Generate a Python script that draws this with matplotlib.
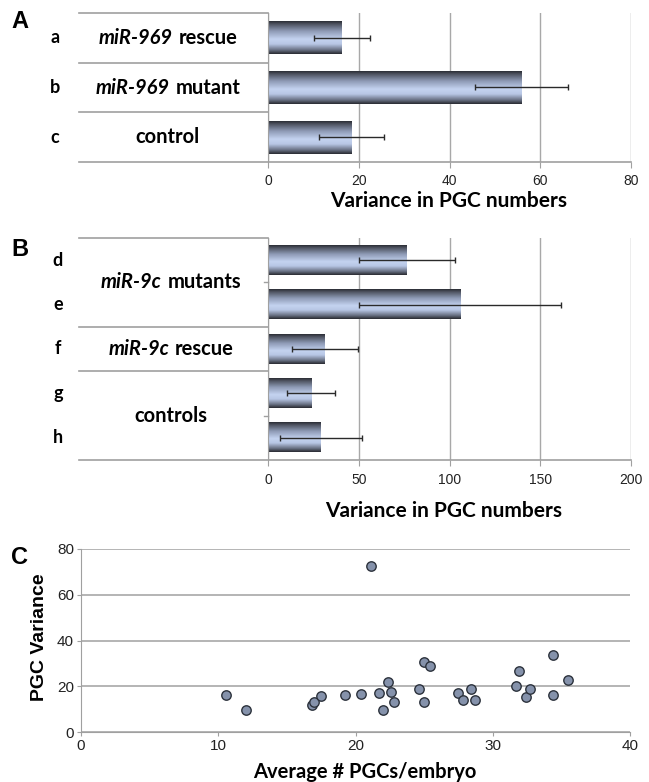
import numpy as np
import matplotlib.pyplot as plt
from matplotlib.colors import LinearSegmentedColormap
from matplotlib.transforms import blended_transform_factory
from matplotlib.offsetbox import TextArea, HPacker, AnnotationBbox

plt.rcParams['font.family'] = 'Liberation Sans'

# Panel A data (top row first)
A_LETTERS = ['a', 'b', 'c']
A_ITALIC = ['miR-969', 'miR-969', '']
A_NAMES = ['rescue', 'mutant', 'control']
A_VAR = [16.3, 55.9, 18.4]
A_ERR = [6.1, 10.2, 7.1]

# Panel B data (top row first)
B_LETTERS = ['d', 'e', 'f', 'g', 'h']
B_VAR = [76.5, 105.9, 31.4, 23.7, 29.2]
B_ERR = [26.4, 55.5, 18.1, 13.4, 22.8]
B_GROUP_ITALIC = ['miR-9c', 'miR-9c', '']
B_GROUP_NAMES = ['mutants', 'rescue', 'controls']
B_GROUP_ROWS = [(0, 1), (2, 2), (3, 4)]

# Panel C data
C_X = [10.6, 12.0, 16.8, 17.0, 17.5, 19.2, 20.4, 21.1, 21.7, 22.0, 22.4, 22.6, 22.8, 24.6,
       25.0, 25.0, 25.4, 27.5, 27.8, 28.4, 28.7, 31.7, 31.9, 32.4, 32.7, 34.4, 34.4, 35.5]
C_Y = [16.0, 9.4, 11.9, 13.0, 15.8, 16.0, 16.6, 72.4, 17.0, 9.4, 22.0, 17.3, 12.9, 18.8,
       13.3, 30.8, 28.9, 17.1, 14.1, 19.0, 13.8, 20.1, 26.8, 15.2, 18.6, 33.6, 16.3, 22.6]

W, H = 649, 782
CAL = 'Lato'
GRID = '#a8a8a8'
LINE = '#a0a0a0'

bar_cmap = LinearSegmentedColormap.from_list('bar', [
    (0.0, '#2c2e36'), (0.08, '#4c515e'), (0.3, '#8e9ab5'), (0.55, '#c4d3f0'),
    (0.7, '#b8c7e5'), (0.88, '#6a7285'), (1.0, '#2a2c33')])


def fx(px):
    return px / W


def fy(py):
    return 1 - py / H


fig = plt.figure(figsize=(6.49, 7.82), dpi=100)


def mixed(ax, tr, x, y, italic, plain, size=14.5):
    parts = []
    if italic:
        parts.append(TextArea(italic, textprops=dict(family=CAL, weight='bold', style='italic', size=size)))
    parts.append(TextArea(plain, textprops=dict(family=CAL, weight='bold', size=size)))
    pack = HPacker(children=parts, align='baseline', pad=0, sep=4)
    ab = AnnotationBbox(pack, (x, y), xycoords=tr, frameon=False, box_alignment=(0.5, 0.5),
                        annotation_clip=False)
    ax.add_artist(ab)


def bar_panel(top, bottom, values, errs, xmax, step, pad):
    n = len(values)
    ax = fig.add_axes([fx(268), fy(bottom), fx(631) - fx(268), (bottom - top) / H])
    ypos = np.arange(n)[::-1]
    grad = np.linspace(0, 1, 80).reshape(-1, 1)
    hgt = 0.66
    for v, y in zip(values, ypos):
        ax.imshow(grad, cmap=bar_cmap, aspect='auto', extent=(0, v, y - hgt / 2, y + hgt / 2),
                  origin='upper', zorder=2, interpolation='bilinear')
    ax.errorbar(values, ypos, xerr=errs, fmt='none', ecolor='#2a2a2a', elinewidth=1,
                capsize=2, capthick=1, zorder=4)
    ax.set_xlim(0, xmax)
    ax.set_ylim(-0.5, n - 0.5)
    ax.set_xticks(np.arange(0, xmax + 1, step))
    ax.set_yticks([])
    ax.grid(axis='x', color=GRID, lw=1)
    ax.set_axisbelow(True)
    for s in ['top', 'right', 'bottom']:
        ax.spines[s].set_visible(False)
    ax.spines['left'].set_color(LINE)
    ax.tick_params(axis='x', length=4, color=LINE, labelsize=10, pad=pad, labelcolor='#222222')
    trd = blended_transform_factory(fig.transFigure, ax.transData)
    tra = blended_transform_factory(fig.transFigure, ax.transAxes)
    ax.plot([fx(79), fx(631)], [0, 0], transform=tra, color=LINE, lw=1.2, clip_on=False)
    ax.plot([fx(79), fx(268)], [1, 1], transform=tra, color=LINE, lw=1.2, clip_on=False)
    return ax, ypos, trd


# ---- Panel A
axA, yA, trA = bar_panel(13, 162, A_VAR, A_ERR, 80, 20, 4.5)
for y in yA[1:]:
    axA.plot([fx(79), fx(268)], [y + 0.5] * 2, transform=trA, color=LINE, lw=1.2, clip_on=False)
for let, it, nm, y in zip(A_LETTERS, A_ITALIC, A_NAMES, yA):
    axA.text(fx(55), y, let, transform=trA, ha='center', va='center', family=CAL, weight='bold', size=13)
    mixed(axA, trA, fx(168), y, it, nm)
fig.text(fx(449), fy(201), 'Variance in PGC numbers', ha='center', va='center',
         family=CAL, weight='bold', size=15)
fig.text(fx(20), fy(22), 'A', ha='center', va='center', weight='bold', size=17)

# ---- Panel B
axB, yB, trB = bar_panel(238, 460, B_VAR, B_ERR, 200, 50, 5)
for y in [2.5, 1.5]:
    axB.plot([fx(79), fx(268)], [y] * 2, transform=trB, color=LINE, lw=1.2, clip_on=False)
for y in [3.5, 0.5]:
    axB.plot([fx(264), fx(268)], [y] * 2, transform=trB, color=LINE, lw=1, clip_on=False)
for let, y in zip(B_LETTERS, yB):
    axB.text(fx(58), y, let, transform=trB, ha='center', va='center', family=CAL, weight='bold', size=13)
for it, nm, (r0, r1) in zip(B_GROUP_ITALIC, B_GROUP_NAMES, B_GROUP_ROWS):
    yc = (yB[r0] + yB[r1]) / 2
    mixed(axB, trB, fx(171), yc, it, nm)
fig.text(fx(444), fy(511), 'Variance in PGC numbers', ha='center', va='center',
         family=CAL, weight='bold', size=15)
fig.text(fx(20), fy(249), 'B', ha='center', va='center', weight='bold', size=17)

# ---- Panel C
axC = fig.add_axes([fx(81), fy(732), fx(630) - fx(81), (732 - 549) / H])
axC.scatter(C_X, C_Y, s=46, color='#8592ab', edgecolors='#2c323c', linewidths=1, zorder=3)
axC.set_xlim(0, 40)
axC.set_ylim(0, 80)
axC.set_xticks(np.arange(0, 41, 10))
axC.set_yticks(np.arange(0, 81, 20))
axC.grid(axis='y', color=GRID, lw=1.2)
axC.set_axisbelow(True)
for s in ['top', 'right']:
    axC.spines[s].set_visible(False)
for s in ['left', 'bottom']:
    axC.spines[s].set_color(LINE)
axC.tick_params(length=3, color=LINE, labelsize=11, pad=2, labelcolor='#222222')
fig.text(fx(39), fy(637), 'PGC Variance', rotation=90, ha='center', va='center', weight='bold', size=14)
fig.text(fx(365), fy(772), 'Average # PGCs/embryo', ha='center', va='center',
         family=CAL, weight='bold', size=14.5)
fig.text(fx(20), fy(557), 'C', ha='center', va='center', weight='bold', size=17)

fig.savefig('out.png', dpi=100)
